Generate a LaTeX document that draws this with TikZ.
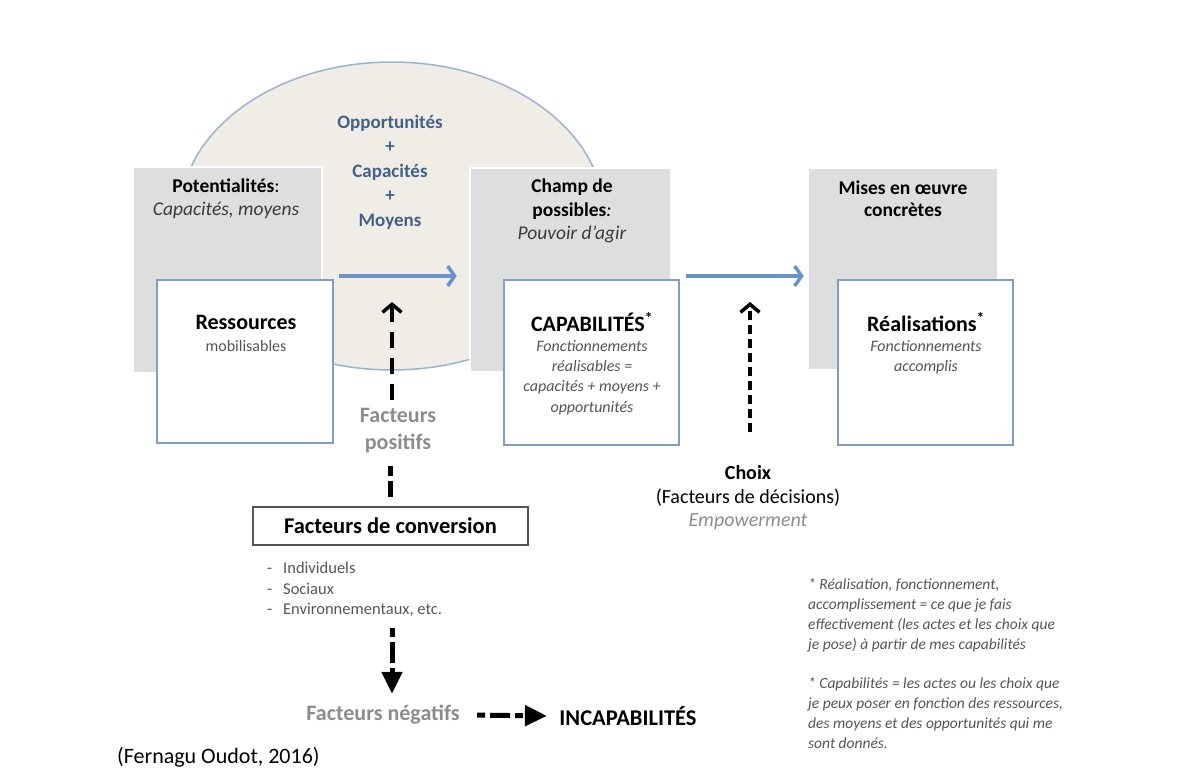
\documentclass[tikz,border=0pt]{standalone}
\usepackage{fontspec}
\setmainfont{Carlito}
\usepackage{tikz}
\usetikzlibrary{calc,positioning,arrows.meta}
\definecolor{boxgray}{HTML}{DEDEDE}
\definecolor{ovalfill}{HTML}{F0EDE6}
\definecolor{ovalline}{HTML}{9DB3CF}
\definecolor{frameblue}{HTML}{809DC4}
\definecolor{arrowblue}{HTML}{6B93C6}
\definecolor{oppblue}{HTML}{44618A}
\definecolor{softgray}{HTML}{8C8C8C}
\definecolor{notegray}{HTML}{555555}
\newcommand{\fsz}[2]{\fontsize{#1}{#2}\selectfont}
\tikzset{
grayblock/.style={fill=boxgray, draw=white, line width=2.5pt, inner sep=0pt}, % grey background blocks
whiteblock/.style={fill=white, draw=frameblue, line width=2pt, inner sep=0pt, minimum width=176pt, minimum height=164pt},
bluearrow/.style={draw=arrowblue, line width=4.5pt, -{Straight Barb[length=7pt,width=20pt,line width=3.5pt]}},
dashup/.style={line width=4pt, -{Straight Barb[length=8pt,width=19pt,line width=3.5pt]}},
dashdown/.style={line width=5pt, -{Triangle[length=22pt,width=20pt]}},
notetext/.style={align=left, anchor=west, inner sep=0pt, text=notegray, font=\itshape\fsz{15.5}{20}},
}

\begin{document}
\begin{tikzpicture}[x=1pt,y=1pt,yscale=-1,xscale=1]
\useasboundingbox (0,0) rectangle (1182,769);

% oval behind the first two blocks
\draw [fill=ovalfill, draw=ovalline, line width=1.5pt] (392,216) ellipse [x radius=212, y radius=154];

% grey blocks
\node [grayblock, minimum width=189pt, minimum height=206pt] (pot) at (227.5,270) {};
\node [grayblock, minimum width=201pt, minimum height=204pt] (champ) at (570.5,270) {};
\node [grayblock, minimum width=190pt, minimum height=202pt] (mises) at (903,269) {};

% white blocks
\node [whiteblock, minimum height=163pt] (res) at (245,361.5) {};
\node [whiteblock, minimum width=175pt, minimum height=165pt] (cap) at (591.5,362.5) {};
\node [whiteblock, minimum width=175pt, minimum height=165pt] (real) at (925.5,362.5) {};

% Text Node
\node [align=center, text=oppblue, font=\bfseries\fsz{19}{24.5}] (opp) at (390,172) {Opportunités\\+\\Capacités\\+\\Moyens};
\node [align=center, font=\fsz{19.5}{23}] (pottxt) at (226,198.5) {\textbf{Potentialités}:\\{\color{notegray!70!black}\itshape Capacités, moyens}};
\node [align=center, font=\fsz{19.5}{23.5}] (champtxt) at (572,211) {\textbf{Champ de}\\\textbf{possibles}\textit{:}\\{\color{notegray!70!black}\itshape Pouvoir d’agir}};
\node [align=center, font=\bfseries\fsz{19.5}{22}] (misestxt) at (903,199) {Mises en œuvre\\concrètes};

% Text Node
\node [font=\bfseries\fsz{22}{26}] (restxt) at (246,322) {Ressources};
\node [text=notegray, font=\fsz{16}{20}] (mobtxt) at (246,346) {mobilisables};
\node [font=\bfseries\fsz{22}{26}] (captxt) at (592,322) {CAPABILITÉS\textsuperscript{*}};
\node [align=center, text=notegray, font=\itshape\fsz{16}{20.3}] (capdef) at (592,377.5) {Fonctionnements\\réalisables =\\capacités + moyens +\\opportunités};
\node [font=\bfseries\fsz{22}{26}] (realtxt) at (926,322) {Réalisations\textsuperscript{*}};
\node [align=center, text=notegray, font=\itshape\fsz{16}{20.5}] (realdef) at (926,357.5) {Fonctionnements\\accomplis};

% conversion factors
\node [align=center, text=softgray, font=\bfseries\fsz{22}{27}] (pos) at (398,431) {Facteurs\\positifs};
\node [draw=notegray, line width=1.5pt, minimum width=275pt, minimum height=38pt, font=\bfseries\fsz{22.5}{26}] (conv) at (390.5,526) {Facteurs de conversion};
\node [align=left, anchor=west, inner sep=0pt, text=notegray, font=\fsz{16.5}{20.5}] (convlist) at (267,589.5) {\makebox[16pt][l]{-}Individuels\\\makebox[16pt][l]{-}Sociaux\\\makebox[16pt][l]{-}Environnementaux, etc.};
\node [text=softgray, font=\bfseries\fsz{22}{26}] (neg) at (383,715) {Facteurs négatifs};
\node [font=\bfseries\fsz{22.5}{26}] (inc) at (628,716) {INCAPABILITÉS};

% choice
\node [align=center, font=\fsz{20}{23.5}] (choix) at (748,498) {\textbf{Choix}\\(Facteurs de décisions)\\{\color{softgray}\itshape Empowerment}};

% notes
\node [notetext] (note1) at (808,615) {* Réalisation, fonctionnement,\\accomplissement = ce que je fais\\effectivement (les actes et les choix que\\je pose) à partir de mes capabilités};
\node [notetext] (note2) at (808,713) {* Capabilités = les actes ou les choix que\\je peux poser en fonction des ressources,\\des moyens et des opportunités qui me\\sont donnés.};
\node [anchor=south west, inner sep=0pt, font=\fsz{22}{26}] (source) at (117,767) {(Fernagu Oudot, 2016)};

% blue arrows
\draw [bluearrow] ($(res.north east)+(5,-3)$) -- ($(champ.west |- res.north)+(-12,-3)$);
\draw [bluearrow] ($(cap.north east)+(6,-3)$) -- ($(mises.west |- cap.north)+(-3,-3)$);

% dashed arrows
\coordinate (postip) at (392,302);
\coordinate (choixtip) at (750,302);
\coordinate (downstart) at (392,628);
\draw [dashup, dash pattern=on 16pt off 10pt, shorten <=5pt] (postip |- pos.north) -- (postip);
\draw [dashup, line width=3.5pt, dash pattern=on 9pt off 5pt, shorten <=30pt] (choixtip |- choix.north) -- (choixtip);
\draw [line width=4.5pt, dash pattern=on 10pt off 5pt on 20pt off 5pt, shorten <=9pt, shorten >=9pt] (pos.south -| conv.north) -- (conv.north);
\draw [dashdown, dash pattern=on 9pt off 5pt on 21pt off 5pt, shorten >=8pt] (downstart) -- (downstart |- neg.north);
\draw [dashdown, dash pattern=on 8pt off 5pt on 20pt off 5pt, shorten <=14pt, shorten >=9pt] (neg.east) -- (inc.west);

\end{tikzpicture}
\end{document}
